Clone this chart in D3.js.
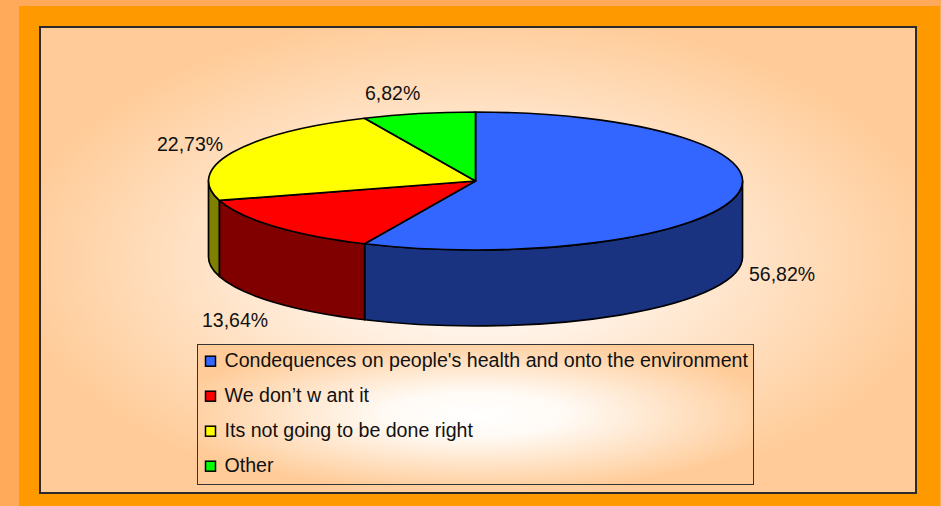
<!DOCTYPE html>
<html>
<head>
<meta charset="utf-8">
<script src="https://cdn.jsdelivr.net/npm/d3@7"></script>
<style>
  html, body { margin: 0; padding: 0; background: #FFAA5A; }
  svg { display: block; }
  text { font-family: "Liberation Sans", Arial, sans-serif; fill: #111; }
</style>
</head>
<body>
<svg id="chart" width="941" height="506"></svg>
<script>
// Reasons given against the project (share of answers, %)
const categories = [
  "Condequences on people's health and onto the environment",
  "We don\u2019t w ant it",
  "Its not going to be done right",
  "Other"
];
const shares = [56.82, 13.64, 22.73, 6.82];
const shareLabels = ["56,82%", "13,64%", "22,73%", "6,82%"];
const topColors = ["#3366FF", "#FF0000", "#FFFF00", "#00FF00"];
const sideColors = ["#1A3380", "#800000", "#808000", "#008000"];

const W = 941, H = 506;
const svg = d3.select("#chart");
const defs = svg.append("defs");

// Plot-area fill: pale centre fading out to peach
const plotGrad = defs.append("radialGradient")
  .attr("id", "plotFill").attr("cx", "0.5").attr("cy", "0.5").attr("r", "0.53");
plotGrad.append("stop").attr("offset", "0").attr("stop-color", "#FFFFFF");
plotGrad.append("stop").attr("offset", "0.35").attr("stop-color", "#FFF0E2");
plotGrad.append("stop").attr("offset", "1").attr("stop-color", "#FFCC99");

const legendGrad = defs.append("radialGradient")
  .attr("id", "legendFill").attr("cx", "0.5").attr("cy", "0.5").attr("r", "0.55");
legendGrad.append("stop").attr("offset", "0").attr("stop-color", "#FFFFFF");
legendGrad.append("stop").attr("offset", "0.3").attr("stop-color", "#FFFAF4");
legendGrad.append("stop").attr("offset", "1").attr("stop-color", "#FFCC99");

// Frame
svg.append("rect").attr("x", 0).attr("y", 0).attr("width", W).attr("height", H).attr("fill", "#FFAA5A");
svg.append("rect").attr("x", 19).attr("y", 6).attr("width", 921).attr("height", 500).attr("fill", "#FF9900");
svg.append("rect").attr("x", 40).attr("y", 27).attr("width", 876).attr("height", 466)
  .attr("fill", "url(#plotFill)").attr("stroke", "#2a2a2a").attr("stroke-width", 2);

// 3-D pie geometry
const cx = 475.5, cy = 181, rx = 267, ry = 69, depth = 76;

const pie = d3.pie().sort(null).value(d => d).startAngle(0).endAngle(2 * Math.PI);
const arcs = pie(shares);
const topColor = d3.scaleOrdinal().domain(d3.range(shares.length)).range(topColors);
const sideColor = d3.scaleOrdinal().domain(d3.range(shares.length)).range(sideColors);

// angle measured clockwise from 12 o'clock
const px = (a) => cx + rx * Math.sin(a);
const py = (a, dz = 0) => cy - ry * Math.cos(a) + dz;

function topPath(a0, a1) {
  const large = (a1 - a0) > Math.PI ? 1 : 0;
  return `M${cx},${cy}L${px(a0)},${py(a0)}A${rx},${ry} 0 ${large} 1 ${px(a1)},${py(a1)}Z`;
}
function sidePath(a0, a1) {
  // only the front half of the rim (pi/2 .. 3pi/2) is visible
  const s = Math.max(a0, Math.PI / 2), e = Math.min(a1, 3 * Math.PI / 2);
  if (e <= s) return null;
  return `M${px(s)},${py(s)}A${rx},${ry} 0 0 1 ${px(e)},${py(e)}` +
         `L${px(e)},${py(e, depth)}A${rx},${ry} 0 0 0 ${px(s)},${py(s, depth)}Z`;
}

const pieG = svg.append("g");
pieG.selectAll("path.side")
  .data(arcs.filter(d => sidePath(d.startAngle, d.endAngle)))
  .join("path")
  .attr("class", "side")
  .attr("d", d => sidePath(d.startAngle, d.endAngle))
  .attr("fill", d => sideColor(d.index))
  .attr("stroke", "#000").attr("stroke-width", 1.7).attr("stroke-linejoin", "round");

pieG.selectAll("path.top")
  .data(arcs)
  .join("path")
  .attr("class", "top")
  .attr("d", d => topPath(d.startAngle, d.endAngle))
  .attr("fill", d => topColor(d.index))
  .attr("stroke", "#000").attr("stroke-width", 1.7).attr("stroke-linejoin", "round");

// Percentage labels
const labelPos = [
  { x: 749, y: 281, anchor: "start" },
  { x: 202, y: 327, anchor: "start" },
  { x: 157, y: 151, anchor: "start" },
  { x: 365, y: 100, anchor: "start" }
];
svg.append("g").selectAll("text")
  .data(arcs)
  .join("text")
  .attr("x", d => labelPos[d.index].x)
  .attr("y", d => labelPos[d.index].y)
  .attr("text-anchor", d => labelPos[d.index].anchor)
  .attr("font-size", 19.5)
  .text(d => shareLabels[d.index]);

// Legend
const lg = svg.append("g");
lg.append("rect").attr("x", 197.5).attr("y", 344.5).attr("width", 556).attr("height", 140)
  .attr("fill", "url(#legendFill)").attr("stroke", "#333").attr("stroke-width", 1);
const rowY = d3.scalePoint().domain(d3.range(categories.length)).range([366.7, 471.7]);
const rows = lg.selectAll("g.item").data(categories).join("g").attr("class", "item");
rows.append("rect")
  .attr("x", 205.5).attr("y", (d, i) => rowY(i) - 10.5)
  .attr("width", 10).attr("height", 10)
  .attr("fill", (d, i) => topColor(i))
  .attr("stroke", "#000").attr("stroke-width", 1.5);
rows.append("text")
  .attr("x", 224.5).attr("y", (d, i) => rowY(i))
  .attr("font-size", 19.6)
  .text(d => d);
</script>
</body>
</html>
